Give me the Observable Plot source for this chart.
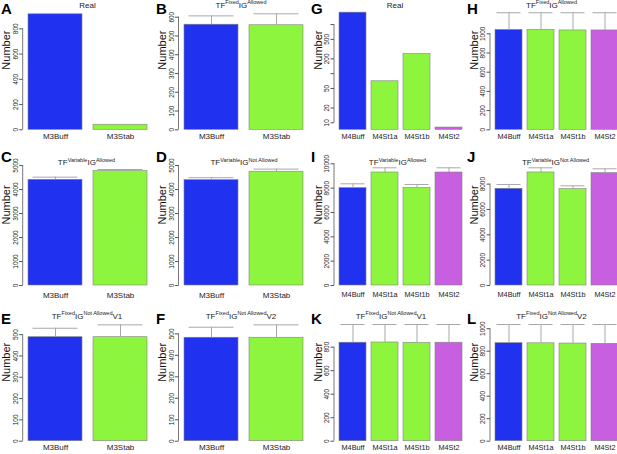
<!DOCTYPE html>
<html>
<head>
<meta charset="utf-8">
<script src="https://cdn.jsdelivr.net/npm/d3@7"></script>
<script src="https://cdn.jsdelivr.net/npm/@observablehq/plot@0.6"></script>
<style>
html, body { margin:0; padding:0; background:#fff; overflow:hidden; width:617px; height:454px; }
#root { position:relative; width:617px; height:454px; overflow:hidden; font-family:"Liberation Sans", Arial, sans-serif; }
#root svg.panel { position:absolute; overflow:visible; }
#overlay { position:absolute; left:0; top:0; }
</style>
</head>
<body>
<div id="root"></div>
<script>
// ---- categories ----
const m3Cats = ["M3Buff", "M3Stab"];
const m4Cats = ["M4Buff", "M4St1a", "M4St1b", "M4St2"];

// ---- bar heights and upper ends of error bars ----
const aVals = [915, 40];
const bVals = [560, 557];   const bErr = [607, 618];
const cVals = [4404, 4763]; const cErr = [4514, 4833];
const dVals = [4390, 4740]; const dErr = [4490, 4850];
const eVals = [488, 488];   const eErr = [530, 546];
const fVals = [482, 482];   const fErr = [531, 542];
const gVals = [1750, 70, 250, 8];
const hVals = [1040, 1040, 1035, 1035]; const hErr = [1219, 1219, 1219, 1219];
const iVals = [8000, 9285, 8000, 9285]; const iErr = [8355, 9671, 8300, 9671];
const jVals = [7632, 8921, 7605, 8868]; const jErr = [7974, 9289, 7868, 9210];
const kVals = [838, 840, 836, 838];     const kErr = [993, 993, 993, 993];
const lVals = [871, 870, 868, 865];     const lErr = [1037, 1037, 1037, 1037];

// ---- y tick values ----
const aTicks = [0, 200, 400, 600, 800];
const bTicks = [0, 100, 200, 300, 400, 500, 600];
const cdTicks = [0, 1000, 2000, 3000, 4000, 5000];
const efTicks = [0, 100, 200, 300, 400, 500];
const gTicks = [10, 20, 50, 100, 200, 500, 1000];
const gTickLabels = [10, 20, 50, 200, 500];
const hTicks = [0, 200, 400, 600, 800, 1000];
const iTicks = [0, 2000, 4000, 6000, 8000, 10000];
const jTicks = [0, 2000, 4000, 6000, 8000];
const kTicks = [0, 200, 400, 600, 800];
const lTicks = [0, 200, 400, 600, 800, 1000];

// ---- titles ----
const realTitle = "Real";
const fixedAllowed = "TF^{Fixed}IG^{Allowed}";
const varAllowed = "TF^{Variable}IG^{Allowed}";
const varNotAllowed = "TF^{Variable}IG^{Not Allowed}";
const fixedNotV1 = "TF^{Fixed}IG^{Not Allowed}V1";
const fixedNotV2 = "TF^{Fixed}IG^{Not Allowed}V2";

// ---- styles ----
const catColors = {M3Buff:"#2131f0", M4Buff:"#2131f0", M3Stab:"#8ef53f", M4St1a:"#8ef53f", M4St1b:"#8ef53f", M4St2:"#c85fe0"};
const font = '"Liberation Sans", Arial, sans-serif';

// ---- layout ----
const rows = [
  {top:0,   height:150, mt:9,  mb:20.7, xpad:4,   titleY:7.5,   letterY:13.5},
  {top:150, height:152, mt:13, mb:17,   xpad:6.5, titleY:165,   letterY:161.7},
  {top:300, height:154, mt:22, mb:13.3, xpad:3.3, titleY:318.5, letterY:324}
];
const cols = [
  {left:0,   ml:22.7, letterX:1},
  {left:155, ml:23.5, letterX:156},
  {left:305, ml:29,   letterX:311},
  {left:461, ml:29,   letterX:467}
];

const panels = [
  {L:"A", row:0, col:0, cats:m3Cats, vals:aVals, ticks:aTicks, ymax:953, title:realTitle, tx:87.5},
  {L:"B", row:0, col:1, cats:m3Cats, vals:bVals, errs:bErr, ticks:bTicks, ymax:641, title:fixedAllowed, tx:241},
  {L:"G", row:0, col:2, cats:m4Cats, vals:gVals, ticks:gTicks, labels:gTickLabels, base:7.2, ymax:2028, title:realTitle, tx:395},
  {L:"H", row:0, col:3, cats:m4Cats, vals:hVals, errs:hErr, ticks:hTicks, ymax:1253, title:fixedAllowed, tx:551.5},
  {L:"C", row:1, col:0, cats:m3Cats, vals:cVals, errs:cErr, ticks:cdTicks, ymax:5083, title:varAllowed, tx:86.5},
  {L:"D", row:1, col:1, cats:m3Cats, vals:dVals, errs:dErr, ticks:cdTicks, ymax:5083, title:varNotAllowed, tx:244},
  {L:"I", row:1, col:2, cats:m4Cats, vals:iVals, errs:iErr, ticks:iTicks, ymax:10025, title:varAllowed, tx:397.5},
  {L:"J", row:1, col:3, cats:m4Cats, vals:jVals, errs:jErr, ticks:jTicks, ymax:9629, title:varNotAllowed, tx:555.5},
  {L:"E", row:2, col:0, cats:m3Cats, vals:eVals, errs:eErr, ticks:efTicks, ymax:557, title:fixedNotV1, tx:87},
  {L:"F", row:2, col:1, cats:m3Cats, vals:fVals, errs:fErr, ticks:efTicks, ymax:553, title:fixedNotV2, tx:241},
  {L:"K", row:2, col:2, cats:m4Cats, vals:kVals, errs:kErr, ticks:kTicks, ymax:1010, title:fixedNotV1, tx:391},
  {L:"L", row:2, col:3, cats:m4Cats, vals:lVals, errs:lErr, ticks:lTicks, ymax:1055, title:fixedNotV2, tx:551.5}
];

const root = document.getElementById("root");

function drawPanel(p) {
  const R = rows[p.row], C = cols[p.col];
  const n = p.cats.length;
  const region = n === 2 ? 129.7 : 132.6;
  const width = Math.ceil(C.ml + region + 1);
  const data = p.cats.map((c, i) => ({cat:c, v:p.vals[i], e:p.errs ? p.errs[i] : null, fill:catColors[c]}));
  const isLog = p.base !== undefined;
  const marks = [];
  if (isLog) {
    marks.push(Plot.barY(data, {x:"cat", y1:() => p.base, y2:"v", fill:"fill", stroke:"#808080", strokeWidth:0.6}));
  } else {
    marks.push(Plot.barY(data, {x:"cat", y:"v", fill:"fill", stroke:"#808080", strokeWidth:0.6}));
  }
  if (p.errs) {
    const ins = n === 2 ? 4.5 : 1.5;
    marks.push(Plot.ruleX(data, {x:"cat", y1:"v", y2:"e", stroke:"#a8a8a8", strokeWidth:1}));
    marks.push(Plot.tickY(data, {x:"cat", y:"e", stroke:"#a8a8a8", strokeWidth:1, insetLeft:ins, insetRight:ins}));
  }
  if (p.labels) {
    // tick marks from the axis, labels as text so every chosen value shows
    marks.push(Plot.axisY({ticks:p.ticks, tickFormat:() => "", tickSize:3.5, label:null, stroke:"#555"}));
    marks.push(Plot.text(p.labels, {
      y:d => d, text:d => String(d), frameAnchor:"left", rotate:-90,
      dx:-5.5, lineAnchor:"bottom", textAnchor:"middle", fontSize:6.5, fill:"#222"
    }));
  } else {
    marks.push(Plot.axisY({
      ticks:p.ticks, tickFormat:d => String(d),
      tickRotate:-90, tickSize:3.5, tickPadding:2, fontSize:6.5, label:null, stroke:"#555"
    }));
  }
  marks.push(Plot.axisX({tickSize:0, tickPadding:R.xpad, fontSize:n === 2 ? 8 : 7.3, label:null}));
  marks.push(Plot.text(["Number"], {text:d => d, frameAnchor:"left", rotate:-90, dx:-16.5, fontSize:11, fill:"#111"}));

  const plot = Plot.plot({
    width, height:R.height,
    marginLeft:C.ml, marginRight:width - C.ml - region, marginTop:R.mt, marginBottom:R.mb,
    x:{type:"band", domain:p.cats, paddingInner:1/6, paddingOuter:n === 2 ? 0.0733 : 0.1533},
    y: isLog ? {type:"log", domain:[p.base, p.ymax]} : {type:"linear", domain:[0, p.ymax]},
    style:{fontFamily:font, background:"transparent", color:"#222", overflow:"visible"},
    marks
  });
  plot.classList.add("panel");
  plot.style.left = C.left + "px";
  plot.style.top = R.top + "px";
  const ys = plot.scale("y");
  d3.select(plot).append("line")
    .attr("x1", C.ml).attr("x2", C.ml)
    .attr("y1", ys.apply(p.ticks[0])).attr("y2", ys.apply(p.ticks[p.ticks.length - 1]))
    .attr("stroke", "#555").attr("stroke-width", 0.8);
  root.appendChild(plot);
}

panels.forEach(drawPanel);

// overlay: panel letters and titles with superscripts
const overlay = d3.select(root).append("svg").attr("id", "overlay")
  .attr("width", 617).attr("height", 454)
  .style("font-family", font);

function titleParts(s) {
  const parts = [];
  const re = /\^\{([^}]*)\}|([^^]+)/g;
  let m;
  while ((m = re.exec(s))) parts.push(m[1] !== undefined ? {t:m[1], sup:true} : {t:m[2], sup:false});
  return parts;
}

panels.forEach(p => {
  const R = rows[p.row], C = cols[p.col];
  overlay.append("text")
    .attr("x", C.letterX).attr("y", R.letterY)
    .attr("font-size", 15).attr("font-weight", "bold").attr("fill", "#000")
    .text(p.L);
  const t = overlay.append("text")
    .attr("x", p.tx).attr("y", R.titleY)
    .attr("text-anchor", "middle").attr("font-size", 8).attr("fill", "#222");
  let raised = false;
  titleParts(p.title).forEach(part => {
    const ts = t.append("tspan").text(part.t);
    if (part.sup) {
      ts.attr("font-size", 5.5);
      if (!raised) { ts.attr("dy", -3.5); raised = true; }
    } else {
      if (raised) { ts.attr("dy", 3.5); raised = false; }
    }
  });
});
</script>
</body>
</html>
